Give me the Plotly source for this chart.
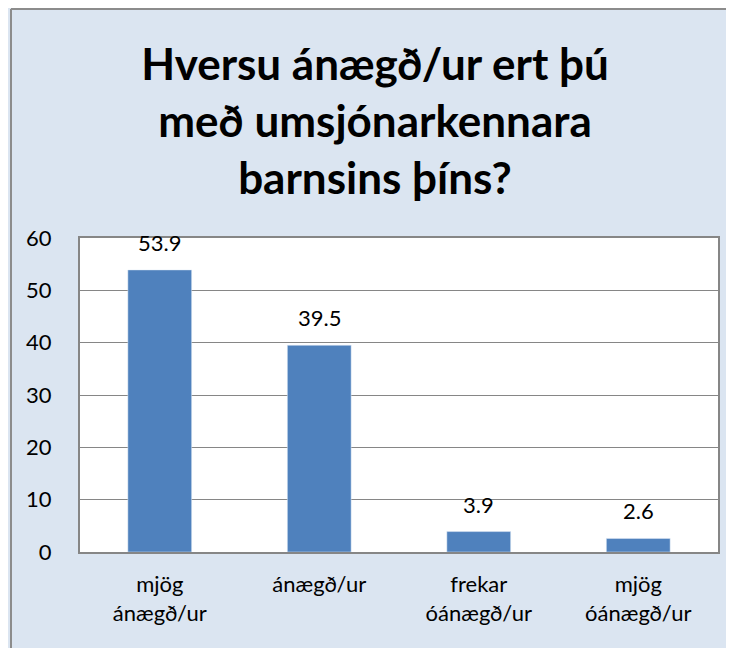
import plotly.graph_objects as go

# Survey answers (percent)
categories = ["mjög<br>ánægð/ur", "ánægð/ur", "frekar<br>óánægð/ur", "mjög<br>óánægð/ur"]
percent = [53.9, 39.5, 3.9, 2.6]
labels = ["53.9", "39.5", "3.9", "2.6"]

title_text = "Hversu ánægð/ur ert þú<br>með umsjónarkennara<br>barnsins þíns?"

W, H = 726, 640
L, R, T, B = 72, 16, 230, 96
pw, ph = W - L - R, H - T - B

fig = go.Figure()
fig.add_trace(go.Bar(x=categories, y=percent, marker_color="#4f81bd", width=0.4))

# value labels sit a bit above each bar
for cat, val, lab in zip(categories, percent, labels):
    fig.add_annotation(x=cat, y=val, text=lab, showarrow=False, yanchor="bottom", yshift=12,
                       font=dict(size=22, color="#000000"))

# gray frame on the top and left edge of the chart
x_edge = (3 - L) / pw
y_edge = 1 + (T - 1) / ph
fig.add_shape(type="line", xref="paper", yref="paper", x0=x_edge, x1=1 + (R + 5) / pw, y0=y_edge, y1=y_edge,
              line=dict(color="#8c8c8c", width=2))
fig.add_shape(type="line", xref="paper", yref="paper", x0=x_edge, x1=x_edge, y0=-(B + 5) / ph, y1=y_edge,
              line=dict(color="#8c8c8c", width=2))

fig.update_layout(
    width=W, height=H,
    margin=dict(l=L, r=R, t=T, b=B),
    paper_bgcolor="#dbe5f1",
    plot_bgcolor="white",
    font=dict(family="Lato, 'Open Sans', sans-serif", size=22, color="#000000"),
    title=dict(text=title_text, x=(375 - 8) / W, xanchor="center", yref="container",
               y=1 - 72 / H, yanchor="middle",
               font=dict(size=44, color="#000000", family="Lato, 'Open Sans', sans-serif", weight="bold")),
    showlegend=False,
)
fig.update_xaxes(showline=True, linecolor="#868686", linewidth=2, mirror=True, ticks="",
                 tickfont=dict(size=22), ticklabelstandoff=12)
fig.update_yaxes(range=[0, 60], dtick=10, showgrid=True, gridcolor="#868686", gridwidth=1,
                 showline=True, linecolor="#868686", linewidth=2, mirror=True, zeroline=False,
                 tickfont=dict(size=22), ticklabelstandoff=22)

fig.write_html("out.html")
